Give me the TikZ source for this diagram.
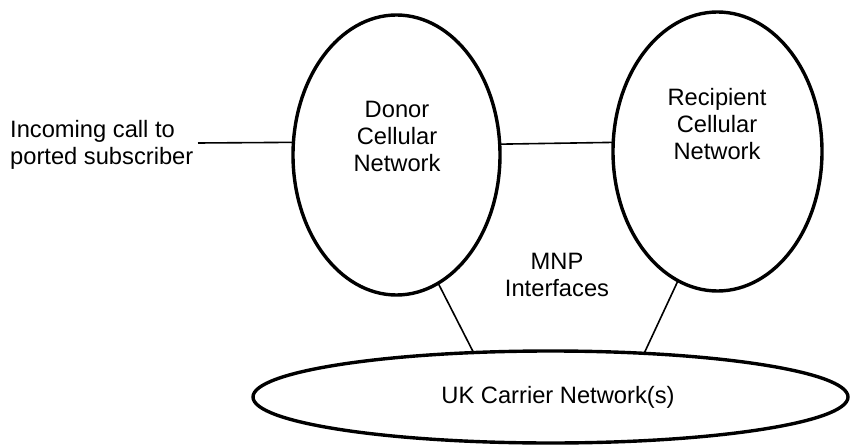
\documentclass[tikz,border=0pt]{standalone}
\usepackage{fontspec}
\setmainfont{Liberation Sans}
\usetikzlibrary{shapes.geometric}
\begin{document}
\begin{tikzpicture}[x=1pt,y=-1pt,
  net/.style={draw,ellipse,line width=3.4pt,inner sep=0pt,outer sep=0pt},
  conn/.style={line width=1.6pt},
  lbl/.style={align=center,inner sep=0pt,anchor=base,font=\fontsize{23.7}{27}\selectfont}]
\useasboundingbox (0,0) rectangle (850,446);
\node[net,minimum width=207pt,minimum height=280pt] (donor) at (396.5,155) {};
\node[net,minimum width=209pt,minimum height=279pt] (recip) at (717.5,151.5) {};
\node[net,minimum width=595pt,minimum height=92pt] (carrier) at (550.5,397) {};
\node[lbl] (donortxt) at (397,172) {Donor\\Cellular\\Network};
\node[lbl] (reciptxt) at (717,160) {Recipient\\Cellular\\Network};
\node[lbl] (carriertxt) at (558,403) {UK Carrier Network(s)};
\node[lbl] (mnp) at (557,296) {MNP\\Interfaces};
\node[lbl,align=left,anchor=base west] (inc) at (10,165) {Incoming call to\\ported subscriber};
\coordinate (incend) at (198,143);
\draw[conn] (incend) -- (donor.173.4);
\draw[conn] (donor.6.6) -- (recip.175.3);
\draw[conn] (donor.-72.3) -- (carrier.150.5);
\draw[conn] (recip.-107.4) -- (carrier.25.6);
\end{tikzpicture}
\end{document}
